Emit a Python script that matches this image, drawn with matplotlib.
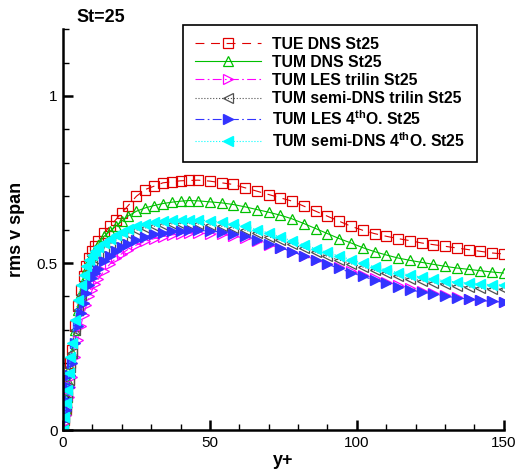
import matplotlib
matplotlib.use("Agg")
import matplotlib.pyplot as plt
from matplotlib.ticker import MultipleLocator

plt.rcParams["font.family"] = ["Liberation Sans", "DejaVu Sans"]
plt.rcParams["mathtext.fontset"] = "custom"
plt.rcParams["mathtext.bf"] = "Liberation Sans:bold"
plt.rcParams["mathtext.rm"] = "Liberation Sans"

# y+ positions
yplus = [0, 0.5, 1, 1.5, 2, 2.5, 3, 4, 5, 6, 7, 8, 9, 10, 11, 12, 14, 16, 18, 20,
         22, 25, 28, 31, 34, 37, 40, 43, 46, 50,
         54, 58, 62, 66, 70, 74, 78, 82, 86, 90, 94, 98, 102, 106, 110, 114, 118,
         122, 126, 130, 134, 138, 142, 146, 150]

tue_dns = [0, 0.03, 0.06, 0.1, 0.15, 0.2, 0.24, 0.31, 0.37, 0.42, 0.46, 0.49, 0.515, 0.535, 0.55,
           0.565, 0.59, 0.61, 0.63, 0.65, 0.67, 0.7, 0.72, 0.73, 0.74, 0.743, 0.746, 0.747, 0.748, 0.745,
           0.74, 0.735, 0.725, 0.715, 0.705, 0.695, 0.685, 0.67, 0.655, 0.64, 0.625, 0.61, 0.598, 0.588,
           0.58, 0.573, 0.567, 0.56, 0.555, 0.55, 0.545, 0.54, 0.535, 0.53, 0.527]
tum_dns = [0, 0.03, 0.06, 0.1, 0.14, 0.19, 0.23, 0.30, 0.36, 0.41, 0.45, 0.48, 0.505, 0.525, 0.54,
           0.555, 0.58, 0.595, 0.61, 0.625, 0.64, 0.655, 0.665, 0.672, 0.678, 0.682, 0.685, 0.687, 0.686, 0.683,
           0.68, 0.675, 0.668, 0.66, 0.652, 0.643, 0.632, 0.618, 0.603, 0.588, 0.573, 0.56, 0.546, 0.534,
           0.524, 0.515, 0.508, 0.502, 0.496, 0.49, 0.485, 0.481, 0.477, 0.473, 0.47]
les_tri = [0, 0.02, 0.045, 0.07, 0.1, 0.13, 0.16, 0.22, 0.27, 0.31, 0.345, 0.375, 0.4, 0.42, 0.437,
           0.452, 0.477, 0.497, 0.514, 0.528, 0.54, 0.554, 0.565, 0.573, 0.579, 0.584, 0.587, 0.589, 0.589, 0.588,
           0.586, 0.581, 0.574, 0.565, 0.555, 0.545, 0.534, 0.522, 0.51, 0.498, 0.487, 0.476, 0.465, 0.454,
           0.444, 0.434, 0.425, 0.417, 0.41, 0.404, 0.398, 0.393, 0.389, 0.386, 0.383]
semi_tri = [0, 0.035, 0.07, 0.11, 0.15, 0.19, 0.23, 0.3, 0.36, 0.405, 0.44, 0.465, 0.485, 0.5, 0.513,
            0.525, 0.543, 0.557, 0.569, 0.579, 0.588, 0.598, 0.605, 0.61, 0.614, 0.617, 0.618, 0.618, 0.617, 0.614,
            0.61, 0.605, 0.598, 0.589, 0.579, 0.568, 0.556, 0.544, 0.532, 0.52, 0.509, 0.498, 0.488, 0.478,
            0.469, 0.46, 0.453, 0.447, 0.441, 0.436, 0.432, 0.428, 0.425, 0.423, 0.421]
les_4th = [0, 0.03, 0.06, 0.09, 0.13, 0.165, 0.2, 0.26, 0.31, 0.35, 0.38, 0.41, 0.435, 0.455, 0.47,
           0.483, 0.505, 0.522, 0.536, 0.548, 0.558, 0.57, 0.579, 0.586, 0.591, 0.595, 0.597, 0.598, 0.598, 0.596,
           0.593, 0.588, 0.58, 0.57, 0.558, 0.546, 0.534, 0.521, 0.508, 0.496, 0.484, 0.471, 0.46, 0.449,
           0.439, 0.429, 0.42, 0.413, 0.406, 0.401, 0.396, 0.392, 0.388, 0.385, 0.383]
semi_4th = [0, 0.04, 0.08, 0.12, 0.17, 0.22, 0.26, 0.33, 0.39, 0.435, 0.465, 0.49, 0.51, 0.525, 0.537,
            0.547, 0.56, 0.572, 0.583, 0.593, 0.602, 0.61, 0.617, 0.622, 0.626, 0.629, 0.63, 0.63, 0.629, 0.626,
            0.622, 0.617, 0.61, 0.6, 0.59, 0.578, 0.566, 0.554, 0.543, 0.532, 0.521, 0.51, 0.499, 0.489,
            0.48, 0.471, 0.464, 0.458, 0.452, 0.447, 0.443, 0.44, 0.437, 0.435, 0.434]

fig = plt.figure(figsize=(5.18, 4.70), dpi=100)
ax = fig.add_axes([0.1216, 0.085, 0.851, 0.853])

ax.plot(yplus, tue_dns, color="#e00000", ls=(0, (8, 6)), lw=0.8, marker="s", ms=6.5,
        mfc="none", mec="#e00000", mew=0.9, label="TUE DNS St25")
ax.plot(yplus, tum_dns, color="#00c000", ls="-", lw=0.8, marker="^", ms=6.5,
        mfc="none", mec="#00c000", mew=0.9, label="TUM DNS St25")
ax.plot(yplus, les_tri, color="#ff00ff", ls=(0, (8, 3, 1.5, 3)), lw=0.8, marker=">", ms=6.5,
        mfc="none", mec="#ff00ff", mew=0.9, label="TUM LES trilin St25")
ax.plot(yplus, semi_tri, color="#505050", ls=":", lw=0.8, marker="<", ms=6.5,
        mfc="none", mec="#505050", mew=0.9, label="TUM semi-DNS trilin St25")
ax.plot(yplus, les_4th, color="#3333ff", ls=(0, (8, 3, 1.5, 3)), lw=0.8, marker=">", ms=6.5,
        mfc="#3333ff", mec="#3333ff", label=r"TUM LES 4$^{\mathbf{th}}$O. St25")
ax.plot(yplus, semi_4th, color="#00ffff", ls=":", lw=0.8, marker="<", ms=6.5,
        mfc="#00ffff", mec="#00ffff", label=r"TUM semi-DNS 4$^{\mathbf{th}}$O. St25")

ax.set_xlim(0, 150)
ax.set_ylim(0, 1.2)
ax.xaxis.set_major_locator(MultipleLocator(50))
ax.xaxis.set_minor_locator(MultipleLocator(10))
ax.yaxis.set_major_locator(MultipleLocator(0.5))
ax.yaxis.set_minor_locator(MultipleLocator(0.1))
ax.set_yticks([0, 0.5, 1])
ax.set_yticklabels(["0", "0.5", "1"])
ax.spines["top"].set_visible(False)
ax.spines["right"].set_visible(False)
ax.spines["left"].set_linewidth(1.8)
ax.spines["bottom"].set_linewidth(1.8)
ax.tick_params(which="major", direction="in", length=7, width=1.8, labelsize=11, pad=4)
ax.tick_params(which="minor", direction="in", length=4, width=1.0)

ax.set_xlabel("y+", fontsize=13, fontweight="bold", labelpad=2)
ax.set_ylabel("rms v span", fontsize=13, fontweight="bold", labelpad=8)
fig.text(0.147, 0.962, "St=25", fontsize=13, fontweight="bold", ha="left", va="center")

leg = ax.legend(loc="upper left", bbox_to_anchor=(0.353, 0.947), bbox_transform=fig.transFigure,
                numpoints=1, handlelength=4.2, handletextpad=0.75, labelspacing=0.2,
                borderpad=0.75, borderaxespad=0, fancybox=False, framealpha=1, edgecolor="black",
                prop={"weight": "bold", "size": 11.3})
leg.get_frame().set_linewidth(1.2)

fig.savefig("out.png", dpi=100)
